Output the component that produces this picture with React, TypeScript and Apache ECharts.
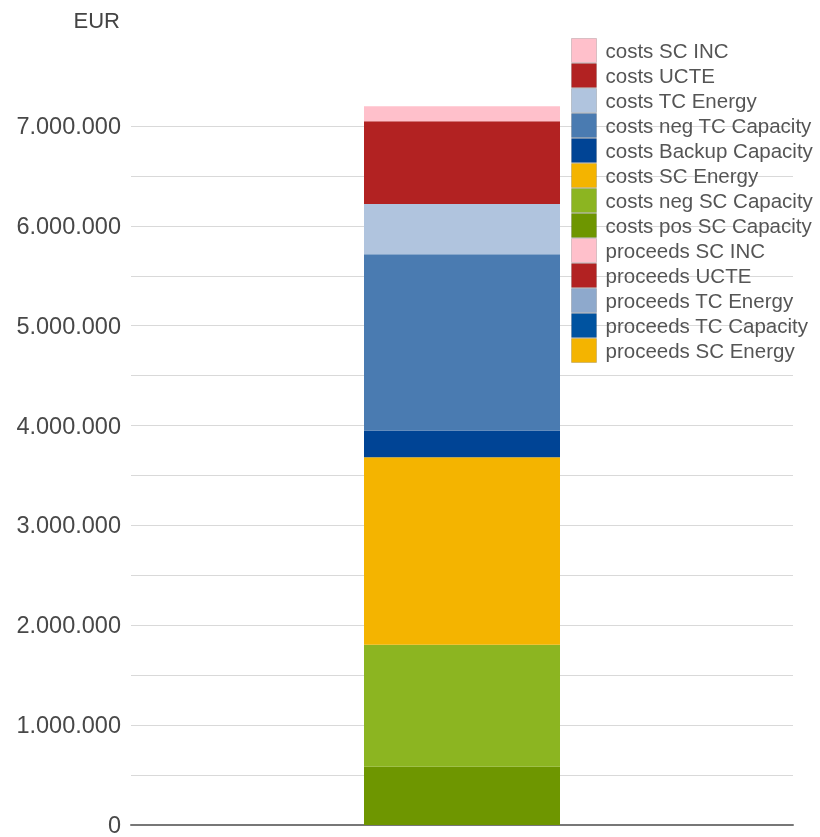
import React, { useEffect, useRef } from "react";
import * as echarts from "echarts";

const categories = ["Total"];

const costSeriesNames = [
  "costs pos SC Capacity",
  "costs neg SC Capacity",
  "costs SC Energy",
  "costs Backup Capacity",
  "costs neg TC Capacity",
  "costs TC Energy",
  "costs UCTE",
  "costs SC INC",
];
const costValues = [584000, 1222000, 1878000, 267000, 1765000, 502000, 829000, 150000];
const costColors = ["#6e9600", "#8cb521", "#f4b400", "#004495", "#4a7bb1", "#b0c4de", "#b22222", "#ffc0cb"];

const proceedsSeriesNames = [
  "proceeds SC Energy",
  "proceeds TC Capacity",
  "proceeds TC Energy",
  "proceeds UCTE",
  "proceeds SC INC",
];
const proceedsValues = [0, 0, 0, 0, 0];
const proceedsColors = ["#f4b400", "#0053a0", "#8ea9cc", "#b22222", "#ffc0cb"];

const legendOrder = [
  "costs SC INC",
  "costs UCTE",
  "costs TC Energy",
  "costs neg TC Capacity",
  "costs Backup Capacity",
  "costs SC Energy",
  "costs neg SC Capacity",
  "costs pos SC Capacity",
  "proceeds SC INC",
  "proceeds UCTE",
  "proceeds TC Energy",
  "proceeds TC Capacity",
  "proceeds SC Energy",
];

const yMax = 7000000;
const yInterval = 1000000;

function fmt(v: number): string {
  return String(Math.round(v)).replace(/\B(?=(\d{3})+(?!\d))/g, ".");
}

export default function App() {
  const ref = useRef<HTMLDivElement>(null);
  useEffect(() => {
    if (!ref.current) return;
    const chart = echarts.init(ref.current, undefined, { renderer: "svg" });
    const font = "'Liberation Sans', Arial, sans-serif";
    const series: any[] = [];
    costSeriesNames.forEach((n, i) => {
      series.push({
        name: n,
        type: "bar",
        stack: "total",
        clip: false,
        barWidth: 196,
        data: [costValues[i]],
        itemStyle: { color: costColors[i] },
      });
    });
    proceedsSeriesNames.forEach((n, i) => {
      series.push({
        name: n,
        type: "bar",
        stack: "total",
        clip: false,
        barWidth: 196,
        data: [proceedsValues[i]],
        itemStyle: { color: proceedsColors[i] },
      });
    });
    chart.setOption({
      animation: false,
      grid: { left: 131, right: 27, top: 126, bottom: 10.5, containLabel: false },
      legend: {
        orient: "vertical",
        left: 566,
        top: 33,
        itemWidth: 25,
        itemHeight: 24,
        itemGap: 0,
        icon: "rect",
        data: legendOrder,
        itemStyle: { borderColor: "rgba(0,0,0,0.15)", borderWidth: 1 },
        textStyle: {
          fontFamily: font,
          fontSize: 20.5,
          lineHeight: 24,
          color: "#555",
          padding: [0, 0, 0, 4],
        },
        selectedMode: false,
      },
      xAxis: {
        type: "category",
        data: categories,
        axisLine: { show: true, lineStyle: { color: "#777", width: 2 } },
        axisTick: { show: false },
        axisLabel: { show: false },
      },
      yAxis: {
        type: "value",
        min: 0,
        max: yMax,
        interval: yInterval,
        axisLine: { show: false },
        axisTick: { show: false },
        axisLabel: {
          margin: 10,
          fontFamily: font,
          fontSize: 23.5,
          color: "#484848",
          formatter: (v: number) => fmt(v),
        },
        splitLine: { show: true, lineStyle: { color: "#d9d9d9", width: 1 } },
        minorTick: { show: false, splitNumber: 2 },
        minorSplitLine: { show: true, lineStyle: { color: "#d9d9d9", width: 1 } },
      },
      graphic: [
        {
          type: "text",
          right: 700,
          top: 9,
          style: { text: "EUR", fontFamily: font, fontSize: 22, fill: "#444" },
        },
      ],
      series,
    });
    return () => chart.dispose();
  }, []);
  return (
    <div
      ref={ref}
      style={{ position: "fixed", left: 0, top: 0, width: 820, height: 837 }}
    />
  );
}
